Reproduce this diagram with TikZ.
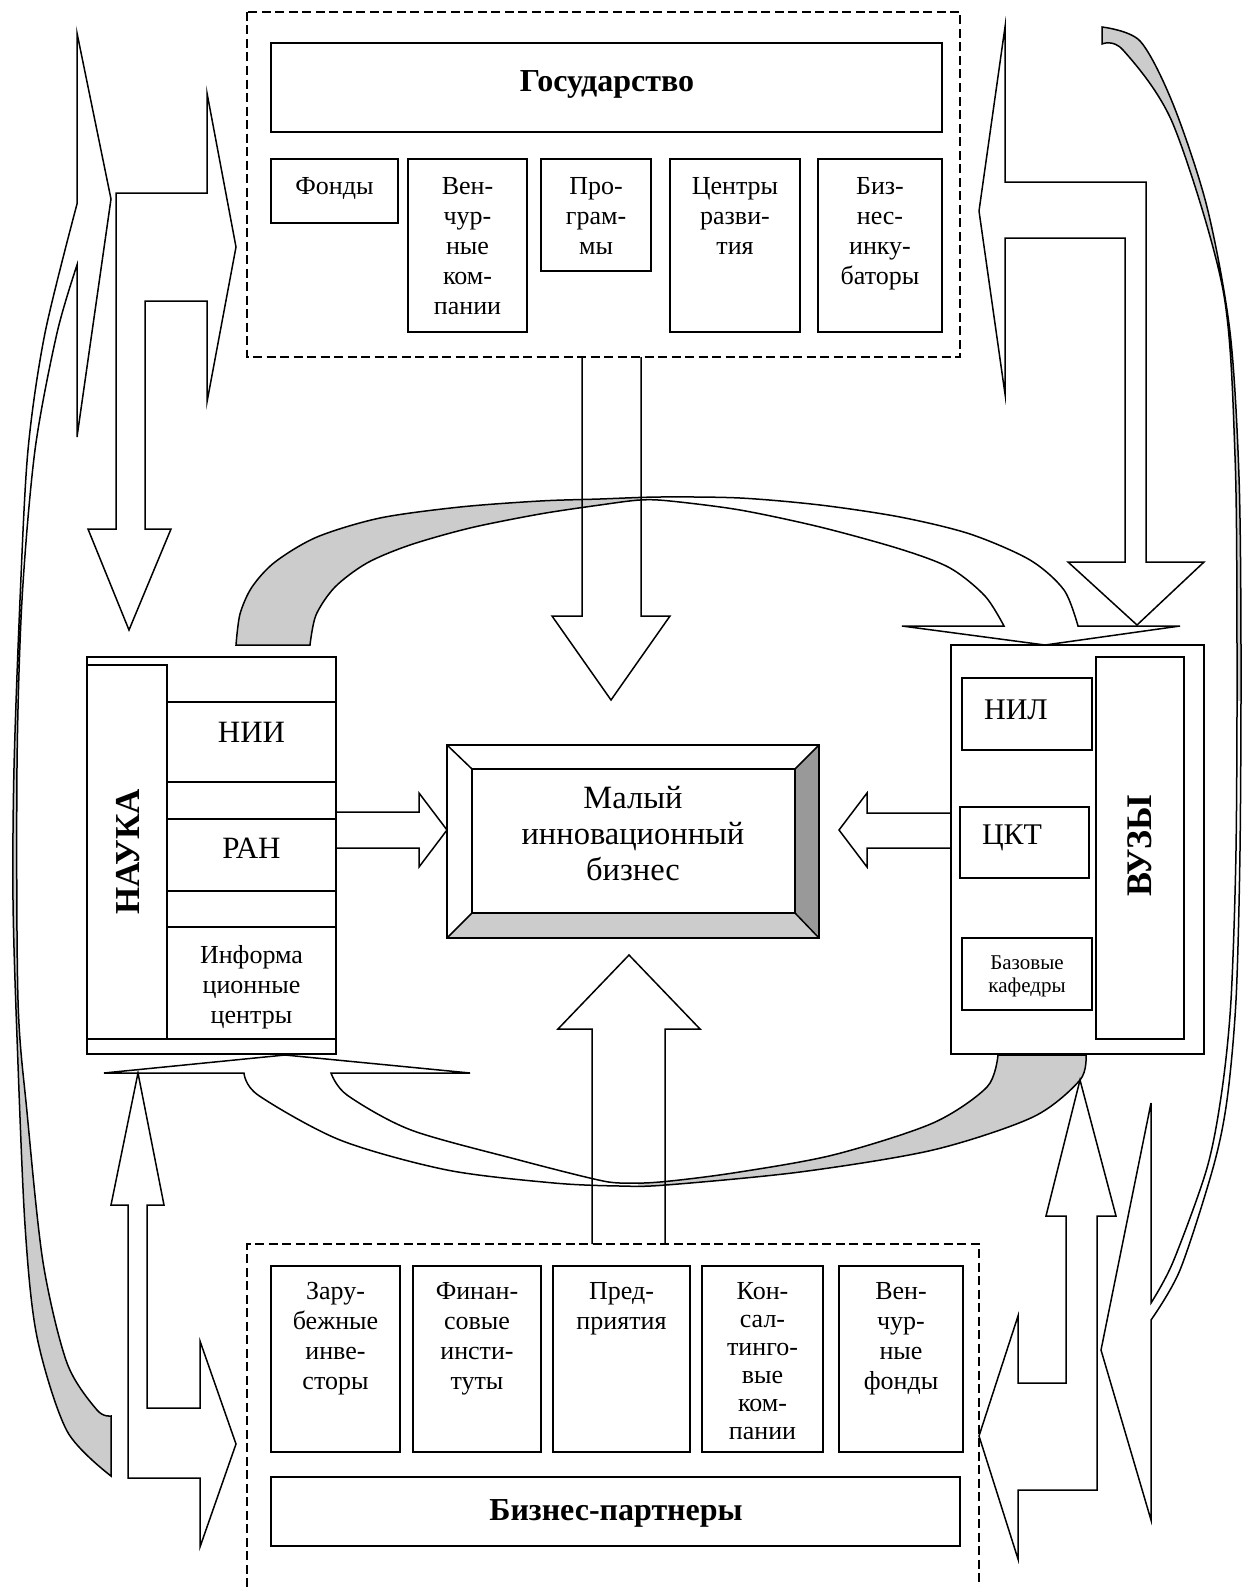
\documentclass[tikz,border=0pt]{standalone}
\usepackage{fontspec}
\setmainfont{Liberation Serif}
\usetikzlibrary{calc}
\definecolor{lgray}{RGB}{204,204,204}
\definecolor{dgray}{RGB}{153,153,153}
\tikzset{
  lw/.style={line width=1.5pt},
  bx/.style={draw, lw, fill=white, inner sep=0pt, outer sep=0pt},
  dbox/.style={draw, line width=1.3pt, dash pattern=on 9pt off 4.5pt},
  blk/.style={draw, lw, miter limit=25},
  tx/.style={inner sep=0pt, align=center, anchor=north, font=\fontsize{26}{30}\selectfont},
  big/.style={inner sep=0pt, align=center, anchor=north, font=\fontsize{31}{36}\selectfont},
  bld/.style={inner sep=0pt, font=\bfseries\fontsize{32}{36}\selectfont},
  vbld/.style={inner sep=0pt, rotate=90, font=\bfseries\fontsize{35}{40}\selectfont},
}
\newcommand\rbox[5]{\node[bx, anchor=north west, minimum width={#4-#2}, minimum height={#5-#3}] (#1) at (#2,#3) {};}
\begin{document}
\begin{tikzpicture}[x=1pt,y=-1pt]
\useasboundingbox (0,0) rectangle (1243,1587);
\fill[white] (0,0) rectangle (1243,1587);

% dashed frames
\draw[dbox] (247,12) rectangle (960,357);
\draw[dbox] (247,1587) -- (247,1244) -- (979,1244) -- (979,1587);

% ---------- curved bands ----------
\def\bandL{plot[smooth] coordinates {(111,1476) (67,1431) (37,1337) (25,1225) (17,1037) (13,900) (14,768) (20,600) (28,450) (45,333) (77,204)} -- (77,33) -- (111,199) -- (77,437) -- (77,265) -- plot[smooth] coordinates {(77,265) (57,333) (35,450) (22,600) (17,768) (18,1000) (27,1112) (43,1262) (67,1363) (97,1410) (111,1416)} -- cycle}
\def\bandR{plot[smooth] coordinates {(1102,27) (1140,41) (1173,104) (1207,207) (1230,332) (1239,477) (1241,650) (1240,850) (1236,1000) (1227,1100) (1213,1168) (1180,1270) (1151,1320)} -- (1151,1520) -- (1101,1350) -- (1151,1103) -- (1151,1303) -- plot[smooth] coordinates {(1151,1303) (1173,1262) (1207,1168) (1222,1090) (1231,1000) (1236,850) (1237,650) (1235,456) (1223,290) (1173,124) (1123,50) (1102,44)} -- cycle}
\def\bandT{plot[smooth] coordinates {(236,645) (240,614) (252,587) (275,562) (317,537) (380,518) (460,507) (540,501) (600,499) (660,497) (740,498) (820,505) (900,517) (970,534) (1030,560) (1064,590) (1078,626)} -- (1180,626) -- (1045,645) -- (902,626) -- (1004,626) -- plot[smooth] coordinates {(1004,626) (985,596) (950,568) (900,549) (820,527) (740,510) (670,501) (640,500) (600,505) (540,514) (470,528) (410,545) (367,563) (335,587) (316,615) (310,645)} -- cycle}
\def\bandB{plot[smooth] coordinates {(998,1055) (987,1087) (933,1123) (833,1155) (733,1173) (660,1182) (620,1183) (594,1179) (519,1160) (411,1130) (347,1095) (331,1073)} -- (470,1073) -- (285,1055) -- (104,1073) -- (244,1073) -- plot[smooth] coordinates {(244,1073) (258,1095) (340,1140) (447,1170) (554,1183) (620,1186) (666,1185) (800,1172) (933,1150) (1033,1117) (1080,1080) (1086,1055)} -- cycle}

\fill[white] \bandL; \fill[white] \bandR; \fill[white] \bandT; \fill[white] \bandB;
\begin{scope}\clip (0,700) rectangle (400,1587); \fill[lgray] \bandL; \end{scope}
\begin{scope}\clip (1000,0) rectangle (1243,700); \fill[lgray] \bandR; \end{scope}
\begin{scope}\clip (200,450) rectangle (642,700); \fill[lgray] \bandT; \end{scope}
\begin{scope}\clip (638,1000) rectangle (1243,1250); \fill[lgray] \bandB; \end{scope}
\draw[lw] \bandL; \draw[lw] \bandR; \draw[lw] \bandT; \draw[lw] \bandB;

% ---------- elbow block arrows ----------
\draw[blk] (116,193) -- (207,193) -- (207,93) -- (236,247) -- (207,402) -- (207,301) -- (145,301) -- (145,529) -- (171,529) -- (129,630) -- (88,529) -- (116,529) -- cycle;
\draw[blk] (1005,182) -- (1146,182) -- (1146,562) -- (1204,562) -- (1137,625) -- (1068,562) -- (1125,562) -- (1125,238) -- (1005,238) -- (1005,394) -- (979,211) -- (1005,27) -- cycle;
\draw[blk] (1066,1216) -- (1046,1216) -- (1080,1080) -- (1116,1216) -- (1097,1216) -- (1097,1490) -- (1018,1490) -- (1018,1559) -- (979,1436) -- (1018,1316) -- (1018,1383) -- (1066,1383) -- cycle;
\draw[blk] (128,1205) -- (111,1205) -- (138,1073) -- (164,1205) -- (147,1205) -- (147,1408) -- (200,1408) -- (200,1341) -- (236,1444) -- (200,1547) -- (200,1478) -- (128,1478) -- cycle;

% ---------- Государство ----------
\rbox{gos}{271}{43}{942}{132}
\rbox{fond}{271}{159}{398}{223}
\rbox{venk}{408}{159}{527}{332}
\rbox{prog}{541}{159}{651}{271}
\rbox{centr}{670}{159}{800}{332}
\rbox{binc}{818}{159}{942}{332}
\node[bld] (gosT) at (607,84) {Государство};
\node[tx] (fondT) at ([yshift=-18pt]fond.north) {Фонды};
\node[tx] (venkT) at ([yshift=-18pt]venk.north) {Вен-\\чур-\\ные\\ком-\\пании};
\node[tx] (progT) at ([yshift=-18pt]prog.north) {Про-\\грам-\\мы};
\node[tx] (centrT) at ([yshift=-18pt]centr.north) {Центры\\разви-\\тия};
\node[tx] (bincT) at ([yshift=-18pt]binc.north) {Биз-\\нес-\\инку-\\баторы};

% ---------- Бизнес-партнеры ----------
\rbox{zar}{271}{1266}{400}{1452}
\rbox{fin}{413}{1266}{541}{1452}
\rbox{pred}{553}{1266}{690}{1452}
\rbox{kons}{702}{1266}{823}{1452}
\rbox{venf}{839}{1266}{963}{1452}
\rbox{bp}{271}{1477}{960}{1546}
\node[tx] (zarT) at ([yshift=-16pt]zar.north) {Зару-\\бежные\\инве-\\сторы};
\node[tx] (finT) at ([yshift=-16pt]fin.north) {Финан-\\совые\\инсти-\\туты};
\node[tx] (predT) at ([yshift=-16pt]pred.north) {Пред-\\приятия};
\node[tx, font=\fontsize{26}{28}\selectfont] (konsT) at ([yshift=-16pt]kons.north) {Кон-\\сал-\\тинго-\\вые\\ком-\\пании};
\node[tx] (venfT) at ([yshift=-16pt]venf.north) {Вен-\\чур-\\ные\\фонды};
\node[bld] (bpT) at (616,1513) {Бизнес-партнеры};

% ---------- НАУКА ----------
\rbox{nauka}{87}{657}{336}{1054}
\rbox{naukacol}{87}{665}{167}{1039}
\rbox{nii}{167}{702}{336}{782}
\rbox{ran}{167}{819}{336}{891}
\rbox{info}{167}{927}{336}{1039}
\node[vbld] (naukaT) at (128,852) {НАУКА};
\node[big] (niiT) at ([yshift=-20pt]nii.north) {НИИ};
\node[big] (ranT) at ([yshift=-19pt]ran.north) {РАН};
\node[tx] (infoT) at ([yshift=-18pt]info.north) {Информа\\ционные\\центры};

% ---------- ВУЗЫ ----------
\rbox{vuz}{951}{645}{1204}{1054}
\rbox{vuzcol}{1096}{657}{1184}{1039}
\rbox{nil}{962}{678}{1092}{750}
\rbox{ckt}{960}{807}{1089}{878}
\rbox{baz}{962}{938}{1092}{1010}
\node[vbld, font=\bfseries\fontsize{36}{40}\selectfont] (vuzT) at (1140,846) {ВУЗЫ};
\node[big, font=\fontsize{30}{36}\selectfont] (nilT) at (1016,700) {НИЛ};
\node[big, font=\fontsize{30}{36}\selectfont] (cktT) at (1012,825) {ЦКТ};
\node[tx, font=\fontsize{21}{23}\selectfont] (bazT) at (1027,956) {Базовые\\кафедры};

% ---------- central box ----------
\coordinate (c1) at (447,745); \coordinate (c2) at (819,745);
\coordinate (c3) at (819,938); \coordinate (c4) at (447,938);
\coordinate (i1) at (472,769); \coordinate (i2) at (795,769);
\coordinate (i3) at (795,913); \coordinate (i4) at (472,913);
\fill[white] (c1) rectangle (c3);
\fill[dgray] (c2) -- (c3) -- (i3) -- (i2) -- cycle;
\fill[lgray] (c4) -- (c3) -- (i3) -- (i4) -- cycle;
\draw[lw] (c1) rectangle (c3);
\draw[lw] (i1) rectangle (i3);
\draw[lw] (c1) -- (i1) (c2) -- (i2) (c3) -- (i3) (c4) -- (i4);
\node[big, font=\fontsize{32.5}{36}\selectfont] (centT) at (633,786) {Малый\\инновационный\\бизнес};

% ---------- straight block arrows ----------
\draw[blk] (582,357) -- (582,616) -- (552,616) -- (611,700) -- (670,616) -- (641,616) -- (641,357);
\draw[blk] (592,1244) -- (592,1029) -- (558,1029) -- (629,955) -- (700,1029) -- (665,1029) -- (665,1244);
\draw[blk] (336,812) -- (419,812) -- (419,793) -- (447,830) -- (419,867) -- (419,848) -- (336,848);
\draw[blk] (951,813) -- (867,813) -- (867,793) -- (839,830) -- (867,867) -- (867,848) -- (951,848);
\end{tikzpicture}
\end{document}
